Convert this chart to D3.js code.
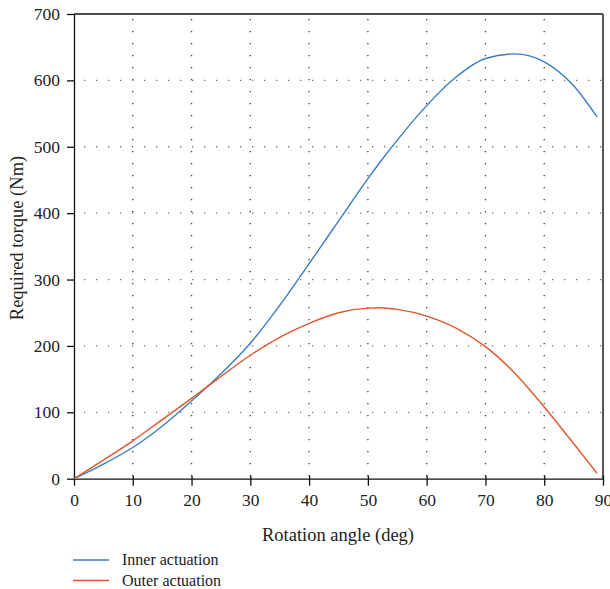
<!DOCTYPE html>
<html>
<head>
<meta charset="utf-8">
<script src="https://cdn.jsdelivr.net/npm/d3@7"></script>
<style>
  body { margin: 0; background: white; }
  text { font-family: "Liberation Serif", "DejaVu Serif", serif; fill: #222; }
</style>
</head>
<body>
<div class="wrapper"></div>
<script>
// values
const angles = [0, 5, 10, 15, 20, 25, 30, 35, 40, 45, 50, 52, 55, 60, 65, 70, 75, 80, 85, 89];
const inner = [0, 22, 47, 79, 117, 158, 204, 261, 324, 388, 452, 476, 510, 562, 605, 633, 640, 628, 592, 545];
const outer = [0, 28, 57, 89, 121, 154, 186, 213, 234, 250, 257, 257.5, 255, 245, 227, 199, 159, 108, 53, 8];
const xTicks = [0, 10, 20, 30, 40, 50, 60, 70, 80, 90];
const yTicks = [0, 100, 200, 300, 400, 500, 600, 700];
const seriesNames = ["Inner actuation", "Outer actuation"];
const colors = ["#3a7cc4", "#e0562a"];

const width = 610, height = 589;
const plotLeft = 74, plotRight = 603, plotTop = 14, plotBottom = 478.7;

const svg = d3.select(".wrapper").append("svg")
  .attr("width", width)
  .attr("height", height);

const x = d3.scaleLinear().domain([0, 90]).range([plotLeft, plotRight]);
const y = d3.scaleLinear().domain([0, 700]).range([plotBottom, plotTop]);

// dotted grid
svg.append("g")
  .selectAll("line")
  .data(xTicks.filter(d => d > 0 && d < 90))
  .enter()
  .append("line")
  .attr("x1", d => x(d)).attr("x2", d => x(d))
  .attr("y1", plotTop).attr("y2", plotBottom)
  .attr("stroke", "#333")
  .attr("stroke-width", 1.3)
  .attr("stroke-dasharray", "1.3,10.7")
  .attr("stroke-dashoffset", -5);

svg.append("g")
  .selectAll("line")
  .data(yTicks.filter(d => d > 0 && d < 700))
  .enter()
  .append("line")
  .attr("x1", plotLeft).attr("x2", plotRight)
  .attr("y1", d => y(d)).attr("y2", d => y(d))
  .attr("stroke", "#777")
  .attr("stroke-width", 1.3)
  .attr("stroke-dasharray", "1.3,10.7")
  .attr("stroke-dashoffset", -10);

// frame: top and right
svg.append("line")
  .attr("x1", plotLeft).attr("x2", plotRight)
  .attr("y1", plotTop).attr("y2", plotTop)
  .attr("stroke", "#111").attr("stroke-width", 1.3);
svg.append("line")
  .attr("x1", plotRight).attr("x2", plotRight)
  .attr("y1", plotTop).attr("y2", plotBottom)
  .attr("stroke", "#555").attr("stroke-width", 2);

// axes
const xAxis = svg.append("g")
  .attr("transform", `translate(0,${plotBottom})`)
  .call(d3.axisBottom(x).tickValues(xTicks).tickSize(7).tickPadding(8).tickSizeOuter(0));
const yAxis = svg.append("g")
  .attr("transform", `translate(${plotLeft},0)`)
  .call(d3.axisLeft(y).tickValues(yTicks).tickSize(7).tickPadding(7).tickSizeOuter(0));

[xAxis, yAxis].forEach(a => {
  a.select(".domain").attr("stroke", "#111").attr("stroke-width", 1.3);
  a.selectAll(".tick line").attr("stroke", "#111").attr("stroke-width", 1.3);
  a.selectAll("text").style("font-size", "17.5px").style("font-family", "Liberation Serif, serif").attr("fill", "#222");
});
xAxis.selectAll(".tick line").attr("y1", -3);

// curves
const line = d3.line()
  .x((d, i) => x(angles[i]))
  .y(d => y(d))
  .curve(d3.curveMonotoneX);

[inner, outer].forEach((s, i) => {
  svg.append("path")
    .datum(s)
    .attr("d", line)
    .attr("fill", "none")
    .attr("stroke", colors[i])
    .attr("stroke-width", 1.4);
});

// axis titles
svg.append("text")
  .attr("x", 338)
  .attr("y", 541)
  .attr("text-anchor", "middle")
  .style("font-size", "18.5px")
  .text("Rotation angle (deg)");

svg.append("text")
  .attr("transform", "translate(23,238) rotate(-90)")
  .attr("text-anchor", "middle")
  .style("font-size", "18.5px")
  .text("Required torque (Nm)");

// legend
const legend = svg.append("g");
seriesNames.forEach((name, i) => {
  const ly = 560 + i * 20.5;
  legend.append("line")
    .attr("x1", 73).attr("x2", 109)
    .attr("y1", ly).attr("y2", ly)
    .attr("stroke", colors[i]).attr("stroke-width", 1.4);
  legend.append("text")
    .attr("x", 122).attr("y", ly + 5)
    .style("font-size", "16px")
    .text(name);
});
</script>
</body>
</html>
